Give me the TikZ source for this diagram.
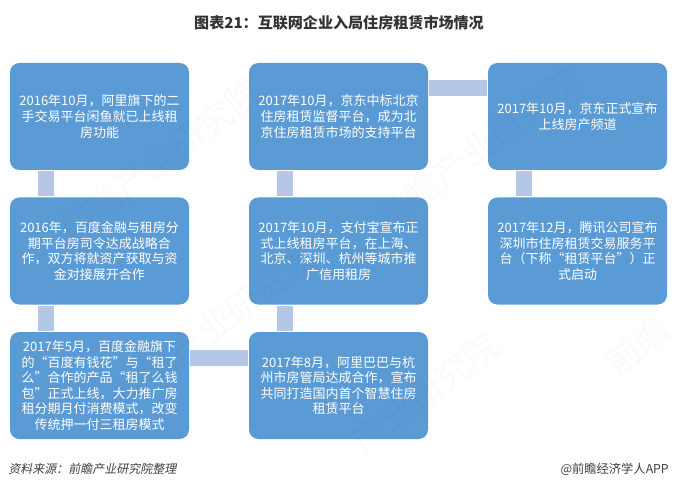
\documentclass[tikz,border=0pt]{standalone}
\usepackage{fontspec}
\setmainfont{Noto Sans CJK SC}
\newfontfamily\slantfont[FakeSlant=0.2]{Noto Sans CJK SC}
\definecolor{boxblue}{HTML}{5B9BD5}
\definecolor{barblue}{HTML}{B4C7E7}
\definecolor{titlegray}{HTML}{333333}
\definecolor{notegray}{HTML}{404040}
\tikzset{
  eventbox/.style={fill=boxblue,rounded corners=7pt,minimum width=134.25pt,minimum height=80.25pt,inner sep=0pt,align=center,text=white,font=\fontsize{9.75pt}{11.7pt}\selectfont},
  linkbar/.style={barblue,line width=12pt,shorten <=0.75pt,shorten >=0.75pt},
  markwater/.style={text=black,opacity=0.02,rotate=37,font=\fontsize{26pt}{26pt}\selectfont,inner sep=0pt},
}
\begin{document}
\begin{tikzpicture}[x=0.75pt,y=-0.75pt]
\useasboundingbox (0,0) rectangle (678,488);
\node[inner sep=0pt,text=titlegray,font=\bfseries\fontsize{11.3pt}{13pt}\selectfont] (title) at (339,23) {图表21：互联网企业入局住房租赁市场情况};
\node[eventbox] (c1r1) at (99.5,116.5) {2016年10月，阿里旗下的二\\手交易平台闲鱼就已上线租\\房功能};
\node[eventbox] (c1r2) at (99.5,251) {2016年，百度金融与租房分\\期平台房司令达成战略合\\作，双方将就资产获取与资\\金对接展开合作};
\node[eventbox] (c1r3) at (99.5,385.5) {2017年5月，百度金融旗下\\的“百度有钱花”与“租了\\么”合作的产品“租了么钱\\包”正式上线，大力推广房\\租分期月付消费模式，改变\\传统押一付三租房模式};
\node[eventbox] (c2r1) at (338.5,116.5) {2017年10月，京东中标北京\\住房租赁监督平台，成为北\\京住房租赁市场的支持平台};
\node[eventbox] (c2r2) at (338.5,251) {2017年10月，支付宝宣布正\\式上线租房平台，在上海、\\北京、深圳、杭州等城市推\\广信用租房};
\node[eventbox] (c2r3) at (338.5,385.5) {2017年8月，阿里巴巴与杭\\州市房管局达成合作，宣布\\共同打造国内首个智慧住房\\租赁平台};
\node[eventbox] (c3r1) at (577.5,116.5) {2017年10月，京东正式宣布\\上线房产频道};
\node[eventbox] (c3r2) at (577.5,251) {2017年12月，腾讯公司宣布\\深圳市住房租赁交易服务平\\台（下称“租赁平台”）正\\式启动};
\draw[linkbar] ([xshift=27.4pt]c1r1.south west) to ([xshift=27.4pt]c1r2.north west);
\draw[linkbar] ([xshift=27.4pt]c1r2.south west) to ([xshift=27.4pt]c1r3.north west);
\draw[linkbar] ([yshift=-19.5pt]c1r3.north east) to ([yshift=-19.5pt]c2r3.north west);
\draw[linkbar] ([xshift=27.4pt]c2r3.north west) to ([xshift=27.4pt]c2r2.south west);
\draw[linkbar] ([xshift=27.4pt]c2r2.north west) to ([xshift=27.4pt]c2r1.south west);
\draw[linkbar] ([yshift=-19pt]c2r1.north east) to ([yshift=-19pt]c3r1.north west);
\draw[linkbar] ([xshift=27pt]c3r1.south west) to ([xshift=27pt]c3r2.north west);
\node[markwater] (mark1) at (160,160) {前瞻产业研究院};
\node[markwater] (mark2) at (478,148) {前瞻产业研究院};
\node[markwater] (mark3) at (215,325) {前瞻产业研究院};
\node[markwater] (mark4) at (425,392) {产业研究院};
\node[markwater] (mark5) at (637,345) {前瞻};
\node[inner sep=0pt,anchor=west,text=notegray,font=\slantfont\fontsize{9pt}{11pt}\selectfont] (source) at (8,469) {资料来源：前瞻产业研究院整理};
\node[inner sep=0pt,anchor=east,text=notegray,font=\fontsize{9.2pt}{11pt}\selectfont] (brand) at (669,469) {@前瞻经济学人APP};
\end{tikzpicture}
\end{document}
